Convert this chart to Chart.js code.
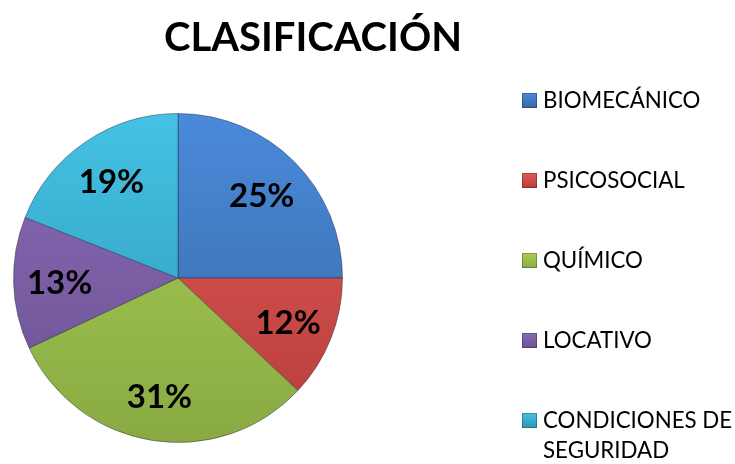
<!DOCTYPE html>
<html>
<head>
<meta charset="utf-8">
<script src="https://cdn.jsdelivr.net/npm/chart.js@4.4.1/dist/chart.umd.min.js"></script>
<style>
    html, body { margin: 0; padding: 0; background: #fff; }
    #wrap { position: relative; width: 735px; height: 464px; }
    #legend { position: absolute; left: 522px; top: 85px; font-family: Lato, "Open Sans", sans-serif; font-size: 22.3px; color: #000; }
    .leg-item { position: absolute; left: 0; width: 213px; display: flex; align-items: flex-start; line-height: 30px; }
    .leg-box { width: 15px; height: 15px; margin-top: 8px; margin-right: 6px; flex: none; box-shadow: inset 0 0 0 1px rgba(0,0,0,0.25); }
</style>
</head>
<body>
<div id="wrap">
    <canvas id="pie" width="735" height="464"></canvas>
    <div id="legend"></div>
</div>
<script>
// data
const chartTitle = 'CLASIFICACIÓN';
const categories = ['BIOMECÁNICO', 'PSICOSOCIAL', 'QUÍMICO', 'LOCATIVO', 'CONDICIONES DE SEGURIDAD'];
const percentValues = [25, 12, 31, 13, 19];

// top / bottom shades for each slice
const lightColors = ['#4A8ADA', '#E25A56', '#A9CF55', '#8A6BB8', '#44C2E4'];
const darkColors = ['#3766A2', '#B63D3A', '#89AA42', '#6B5090', '#2F96B5'];

function sliceGradient(ctx) {
    const chart = ctx.chart;
    const area = chart.chartArea;
    if (!area) return lightColors[ctx.dataIndex];
    const g = chart.ctx.createLinearGradient(0, area.top, 0, area.bottom);
    g.addColorStop(0, lightColors[ctx.dataIndex]);
    g.addColorStop(1, darkColors[ctx.dataIndex]);
    return g;
}

// percent labels inside each slice, placed from the arc geometry
const sliceLabels = {
    id: 'sliceLabels',
    afterDatasetsDraw(chart) {
        const c = chart.ctx;
        const meta = chart.getDatasetMeta(0);
        c.save();
        c.font = 'bold 33px Lato, "Open Sans", sans-serif';
        c.fillStyle = '#000';
        c.textAlign = 'center';
        c.textBaseline = 'middle';
        meta.data.forEach((arc, i) => {
            const p = arc.getProps(['x', 'y', 'startAngle', 'endAngle', 'outerRadius'], true);
            const mid = (p.startAngle + p.endAngle) / 2;
            const r = p.outerRadius * 0.72;
            c.fillText(percentValues[i] + '%', p.x + Math.cos(mid) * r, p.y + Math.sin(mid) * r + 2);
        });
        c.restore();
    }
};

const titleText = {
    id: 'titleText',
    afterDraw(chart) {
        const c = chart.ctx;
        c.save();
        c.font = 'bold 40px Lato, "Open Sans", sans-serif';
        c.fillStyle = '#000';
        c.textAlign = 'center';
        c.textBaseline = 'middle';
        c.fillText(chartTitle, 313, 38);
        c.restore();
    }
};

const chart = new Chart(document.getElementById('pie'), {
    type: 'pie',
    data: {
        labels: categories,
        datasets: [{
            data: percentValues,
            backgroundColor: sliceGradient,
            borderColor: 'rgba(30,40,60,0.45)',
            borderWidth: 1
        }]
    },
    options: {
        responsive: false,
        animation: false,
        layout: { padding: { left: 13, right: 392, top: 113, bottom: 21 } },
        plugins: {
            legend: { display: false },
            tooltip: { enabled: false },
            title: { display: false }
        }
    },
    plugins: [sliceLabels, titleText]
});

// legend on the right
const legendEl = document.getElementById('legend');
const rowTops = [0, 80, 160, 240, 320];
categories.forEach((name, i) => {
    const item = document.createElement('div');
    item.className = 'leg-item';
    item.style.top = rowTops[i] + 'px';
    item.innerHTML = `<span class="leg-box" style="background:linear-gradient(${lightColors[i]}, ${darkColors[i]})"></span><span>${name}</span>`;
    legendEl.appendChild(item);
});
</script>
</body>
</html>
